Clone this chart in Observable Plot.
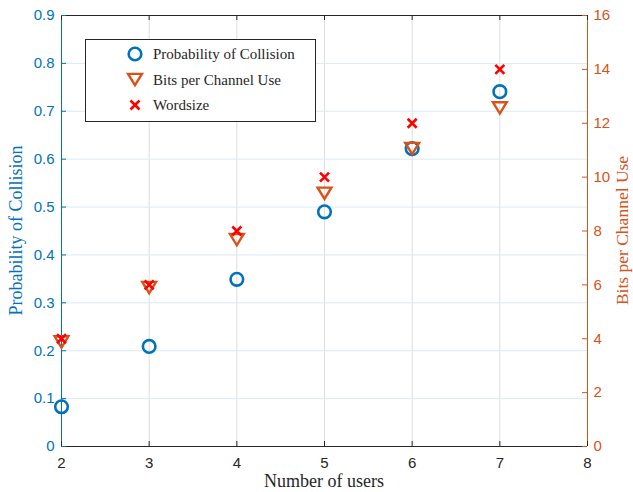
<!DOCTYPE html>
<html>
<head>
<meta charset="utf-8">
<script src="https://cdn.jsdelivr.net/npm/d3@7"></script>
<script src="https://cdn.jsdelivr.net/npm/@observablehq/plot@0.6"></script>
<style>
  html, body { margin: 0; padding: 0; background: #fff; }
  #chart svg { display: block; }
</style>
</head>
<body>
<div id="chart"></div>
<script>
const users = [2, 3, 4, 5, 6, 7];
const probCollision = [0.083, 0.209, 0.349, 0.490, 0.622, 0.741];
const bitsPerChannelUse = [3.88, 5.9, 7.68, 9.4, 11.06, 12.57];
const wordsize = [4, 6, 8, 10, 12, 14];
const xTicks = [2, 3, 4, 5, 6, 7, 8];
const leftTicks = [0, 0.1, 0.2, 0.3, 0.4, 0.5, 0.6, 0.7, 0.8, 0.9];
const rightTicks = [0, 2, 4, 6, 8, 10, 12, 14, 16];
const xDomain = [2, 8];
const leftDomain = [0, 0.9];
const rightDomain = [0, 16];

const BLUE = "#0072BD", ORANGE = "#D95319", RED = "#FF0000", DARK = "#262626";
const k = (leftDomain[1] - leftDomain[0]) / (rightDomain[1] - rightDomain[0]);
const toLeft = v => v * k;

const rows = users.map((u, i) => ({
  users: u, prob: probCollision[i], bits: bitsPerChannelUse[i], word: wordsize[i]
}));

const triangleDown = {
  draw(ctx, size) {
    const r = Math.sqrt(size / Math.PI);
    const w = r * 1.1, t = r * 0.9;
    ctx.moveTo(-w, -t);
    ctx.lineTo(w, -t);
    ctx.lineTo(0, t);
    ctx.closePath();
  }
};
const cross = {
  draw(ctx, size) {
    const r = Math.sqrt(size / Math.PI) * 0.75;
    ctx.moveTo(-r, -r); ctx.lineTo(r, r);
    ctx.moveTo(-r, r); ctx.lineTo(r, -r);
  }
};

const W = 633, H = 492, mL = 61, mR = 46, mT = 15, mB = 46;
const innerW = W - mL - mR, innerH = H - mT - mB;
const tickLen = 5;

const plot = Plot.plot({
  width: W, height: H,
  marginLeft: mL, marginRight: mR, marginTop: mT, marginBottom: mB,
  x: { domain: xDomain },
  y: { domain: leftDomain },
  style: { fontFamily: "'Liberation Sans', Arial, sans-serif", fontSize: "15px", background: "#fff" },
  marks: [
    Plot.gridX(xTicks, { stroke: "#dedede", strokeOpacity: 1 }),
    Plot.gridY(leftTicks, { stroke: "#d9eaf5", strokeOpacity: 1 }),
    Plot.ruleY([leftDomain[0]], { stroke: DARK, strokeWidth: 1 }),
    Plot.ruleY([leftDomain[1]], { stroke: DARK, strokeWidth: 1 }),
    Plot.ruleX([xDomain[0]], { stroke: BLUE, strokeWidth: 1 }),
    Plot.ruleX([xDomain[1]], { stroke: ORANGE, strokeWidth: 1 }),
    // inward ticks
    Plot.tickX(xTicks, { stroke: DARK, insetTop: innerH - tickLen }),
    Plot.tickX(xTicks, { stroke: DARK, insetBottom: innerH - tickLen }),
    Plot.tickY(leftTicks, { stroke: BLUE, insetRight: innerW - tickLen }),
    Plot.tickY(rightTicks.map(toLeft), { stroke: ORANGE, insetLeft: innerW - tickLen }),
    // axes labels
    Plot.axisX(xTicks, { tickSize: 0, tickPadding: 11, label: null, color: DARK, tickFormat: d => String(d) }),
    Plot.axisY(leftTicks, { anchor: "left", tickSize: 0, tickPadding: 7, label: null, color: BLUE, tickFormat: d => d === 0 ? "0" : d.toFixed(1) }),
    Plot.axisY(rightTicks.map(toLeft), { anchor: "right", tickSize: 0, tickPadding: 6, label: null, color: ORANGE, tickFormat: d => String(Math.round(d / k)) }),
    // data
    Plot.dot(rows, { x: "users", y: "prob", r: 6.3, stroke: BLUE, strokeWidth: 2.6, fill: "none", symbol: "circle" }),
    Plot.dot(rows, { x: "users", y: d => toLeft(d.bits), r: 6.3, stroke: ORANGE, strokeWidth: 2.4, fill: "none", symbol: triangleDown }),
    Plot.dot(rows, { x: "users", y: d => toLeft(d.word), r: 6, stroke: RED, strokeWidth: 2.6, fill: "none", symbol: cross })
  ]
});

document.getElementById("chart").appendChild(plot);

const svg = d3.select(plot);
const serif = "'Liberation Serif', 'Times New Roman', serif";
const xs = plot.scale("x"), ys = plot.scale("y");
const midY = (ys.apply(leftDomain[0]) + ys.apply(leftDomain[1])) / 2;
const midX = (xs.apply(xDomain[0]) + xs.apply(xDomain[1])) / 2;

svg.append("text").attr("x", midX).attr("y", 487).attr("text-anchor", "middle")
  .attr("font-family", serif).attr("font-size", 18).attr("fill", DARK).text("Number of users");
svg.append("text").attr("transform", `translate(22,${midY}) rotate(-90)`).attr("text-anchor", "middle")
  .attr("font-family", serif).attr("font-size", 18).attr("fill", BLUE).text("Probability of Collision");
svg.append("text").attr("transform", `translate(628,${midY}) rotate(-90)`).attr("text-anchor", "middle")
  .attr("font-family", serif).attr("font-size", 17.5).attr("fill", ORANGE).text("Bits per Channel Use");

// legend
const lg = svg.append("g");
lg.append("rect").attr("x", 85.5).attr("y", 39.5).attr("width", 230).attr("height", 82)
  .attr("fill", "#fff").attr("stroke", DARK).attr("stroke-width", 1);
const entries = [
  { label: "Probability of Collision", color: BLUE, sym: d3.symbolCircle, size: Math.PI * 6.3 * 6.3, w: 2.6 },
  { label: "Bits per Channel Use", color: ORANGE, sym: triangleDown, size: Math.PI * 6.3 * 6.3, w: 2.4 },
  { label: "Wordsize", color: RED, sym: cross, size: Math.PI * 36, w: 2.6 }
];
entries.forEach((e, i) => {
  const y = 54 + i * 25.5;
  lg.append("path").attr("transform", `translate(135,${y})`)
    .attr("d", d3.symbol(e.sym, e.size)()).attr("fill", "none").attr("stroke", e.color).attr("stroke-width", e.w);
  lg.append("text").attr("x", 153).attr("y", y + 5).attr("text-anchor", "start").attr("font-family", serif).attr("font-size", 15)
    .attr("fill", DARK).text(e.label);
});
</script>
</body>
</html>
